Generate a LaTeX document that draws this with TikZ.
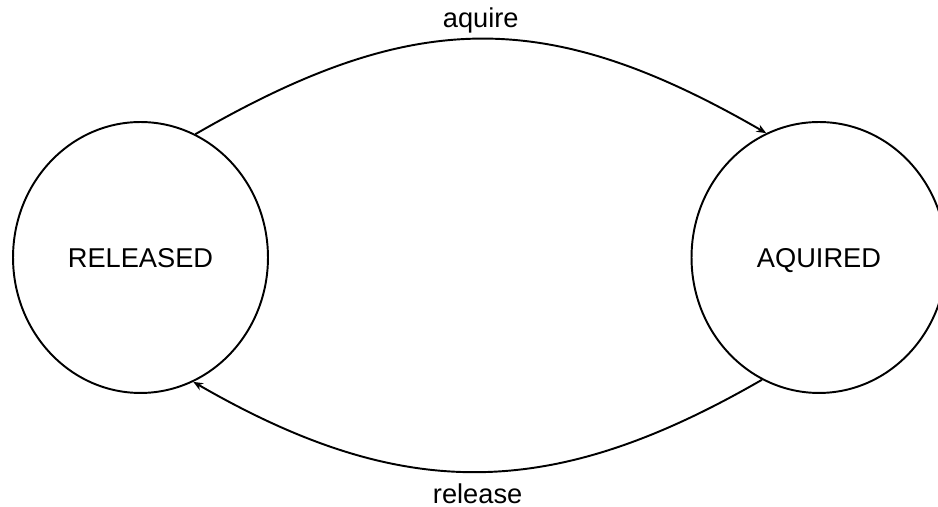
\documentclass[tikz,border=0pt]{standalone}
\usepackage{fontspec}
\setmainfont{Liberation Sans}
\usetikzlibrary{arrows.meta,
                shapes.geometric}

\begin{document}
\begin{tikzpicture}[x=0.02cm, y=0.02cm,
                state/.style={draw, ellipse, line width=1.1pt, inner sep=0pt,
                              minimum width=5.1cm, minimum height=5.42cm,
                              text depth=0pt,
                              font=\fontsize{15.5}{18}\selectfont},
                trans/.style={line width=1.1pt, -{Stealth[length=5.5pt, width=4.5pt]}},
                lbl/.style={inner sep=0pt, font=\fontsize{15.5}{18}\selectfont}]
                \useasboundingbox (0,0) rectangle (938,507);
                \node [state] (rel) at (140.5,249.5) {RELEASED};
                \node [state] (aq) at (819,249.5) {AQUIRED};
                \draw [trans] (rel.66) to [out=30, in=150, looseness=1.13]
                      node [lbl, above=3pt] (aqlbl) {aquire} (aq.113);
                \draw [trans] (aq.245) to [out=210, in=330, looseness=1.09]
                      node [lbl, below=6.5pt] (rellbl) {release} (rel.293);
            \end{tikzpicture}
\end{document}
